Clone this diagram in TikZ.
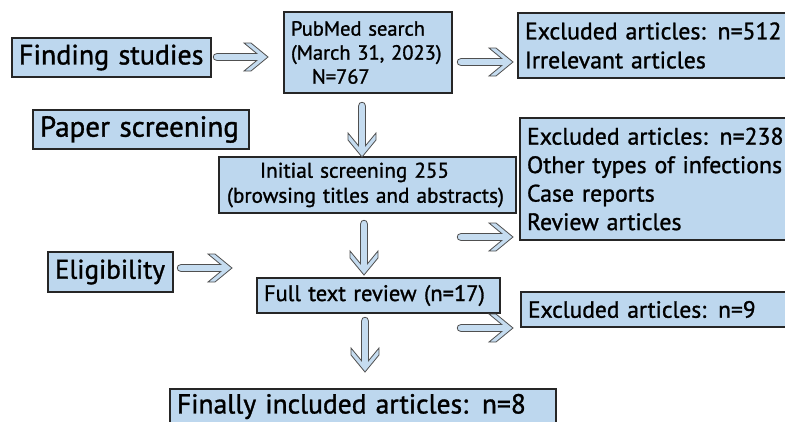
\documentclass[tikz,border=0pt]{standalone}
\usepackage{fontspec}
\setmainfont{PT Sans}[BoldFont={PT Sans},BoldFeatures={FakeBold=1.2}]
\definecolor{boxfill}{HTML}{BDD7EE}
\definecolor{arrfill}{HTML}{C5DCF0}
\definecolor{arrline}{HTML}{505050}
\tikzset{
  box/.style={draw=black!85, line width=1.2pt, fill=boxfill, anchor=north west,
    inner xsep=7pt, inner ysep=0pt, align=left, outer sep=0pt},
  barrowline/.style={draw=arrline, line width=0.8pt, fill=arrfill, line join=miter},
  barrow/.pic={\path[barrowline] (4,3.5) -- ({#1-11.25},3.5) -- ({#1-24},14) -- ({#1-17},14)
     -- (#1,0) -- ({#1-17},-14) -- ({#1-24},-14) -- ({#1-11.25},-3.5) -- (4,-3.5)
     .. controls (-1,-3.5) and (-1,3.5) .. (4,3.5) -- cycle;}
}
\begin{document}
\begin{tikzpicture}[x=1pt,y=-1pt]
\useasboundingbox (0,0) rectangle (785,421);
\clip (0,0) rectangle (785,421);
\fill[white] (0,0) rectangle (785,421);
% left stage labels
\node[box, minimum width=199pt, minimum height=39pt, text width=185pt,
  font=\fontsize{28}{32}\selectfont\bfseries] (find) at (12,38) {Finding studies};
\node[box, minimum width=216pt, minimum height=39pt, text width=202pt,
  font=\fontsize{29}{32}\selectfont\bfseries] (paper) at (33,110) {Paper screening};
\node[box, minimum width=125pt, minimum height=40pt, text width=111pt,
  font=\fontsize{27}{30}\selectfont\bfseries] (elig) at (48,252) {Eligibility};
% main flow
\node[box, minimum width=168pt, minimum height=81pt, text width=154pt,
  font=\fontsize{20.5}{24}\selectfont\bfseries] (pub) at (284,12)
  {PubMed search\\(March 31, 2023)\\\hspace*{21pt}N=767};
\node[box, minimum width=297pt, minimum height=56pt, text width=281pt, inner xsep=8pt,
  font=\fontsize{21.2}{25}\selectfont\bfseries] (init) at (219,157)
  {\hspace*{33pt}Initial screening 255\\(browsing titles and abstracts)};
\node[box, minimum width=243pt, minimum height=35pt, text width=229pt,
  font=\fontsize{22.5}{26}\selectfont\bfseries] (full) at (257,278) {Full text review (n=17)};
\node[box, minimum width=386pt, minimum height=35pt, text width=372pt,
  font=\fontsize{27.5}{30}\selectfont\bfseries] (final) at (170,389) {Finally included articles: n=8};
% exclusions
\node[box, minimum width=280pt, minimum height=65pt, text width=266pt,
  font=\fontsize{23.8}{29}\selectfont\bfseries] (ex1) at (518,13)
  {Excluded articles: n=512\\Irrelevant articles};
\node[box, minimum width=280pt, minimum height=122pt, text width=266pt,
  font=\fontsize{23.8}{28.5}\selectfont\bfseries] (ex2) at (520,118)
  {Excluded articles: n=238\\Other types of infections\\Case reports\\Review articles};
\node[box, minimum width=280pt, minimum height=35pt, text width=266pt,
  font=\fontsize{23.5}{28}\selectfont\bfseries] (ex3) at (521,292) {Excluded articles: n=9};
% block arrows
\pic (a1) at (213,57) {barrow=55};
\pic (a2) at (457,62) {barrow=56};
\pic (a3) at (457,237) {barrow=56};
\pic (a4) at (457,328) {barrow=56};
\pic (a5) at (177,268) {barrow=55};
\pic[rotate=-90] (d1) at (362,102) {barrow=55};
\pic[rotate=-90] (d2) at (364,220) {barrow=55};
\pic[rotate=-90] (d3) at (365,317) {barrow=55};
\end{tikzpicture}
\end{document}
